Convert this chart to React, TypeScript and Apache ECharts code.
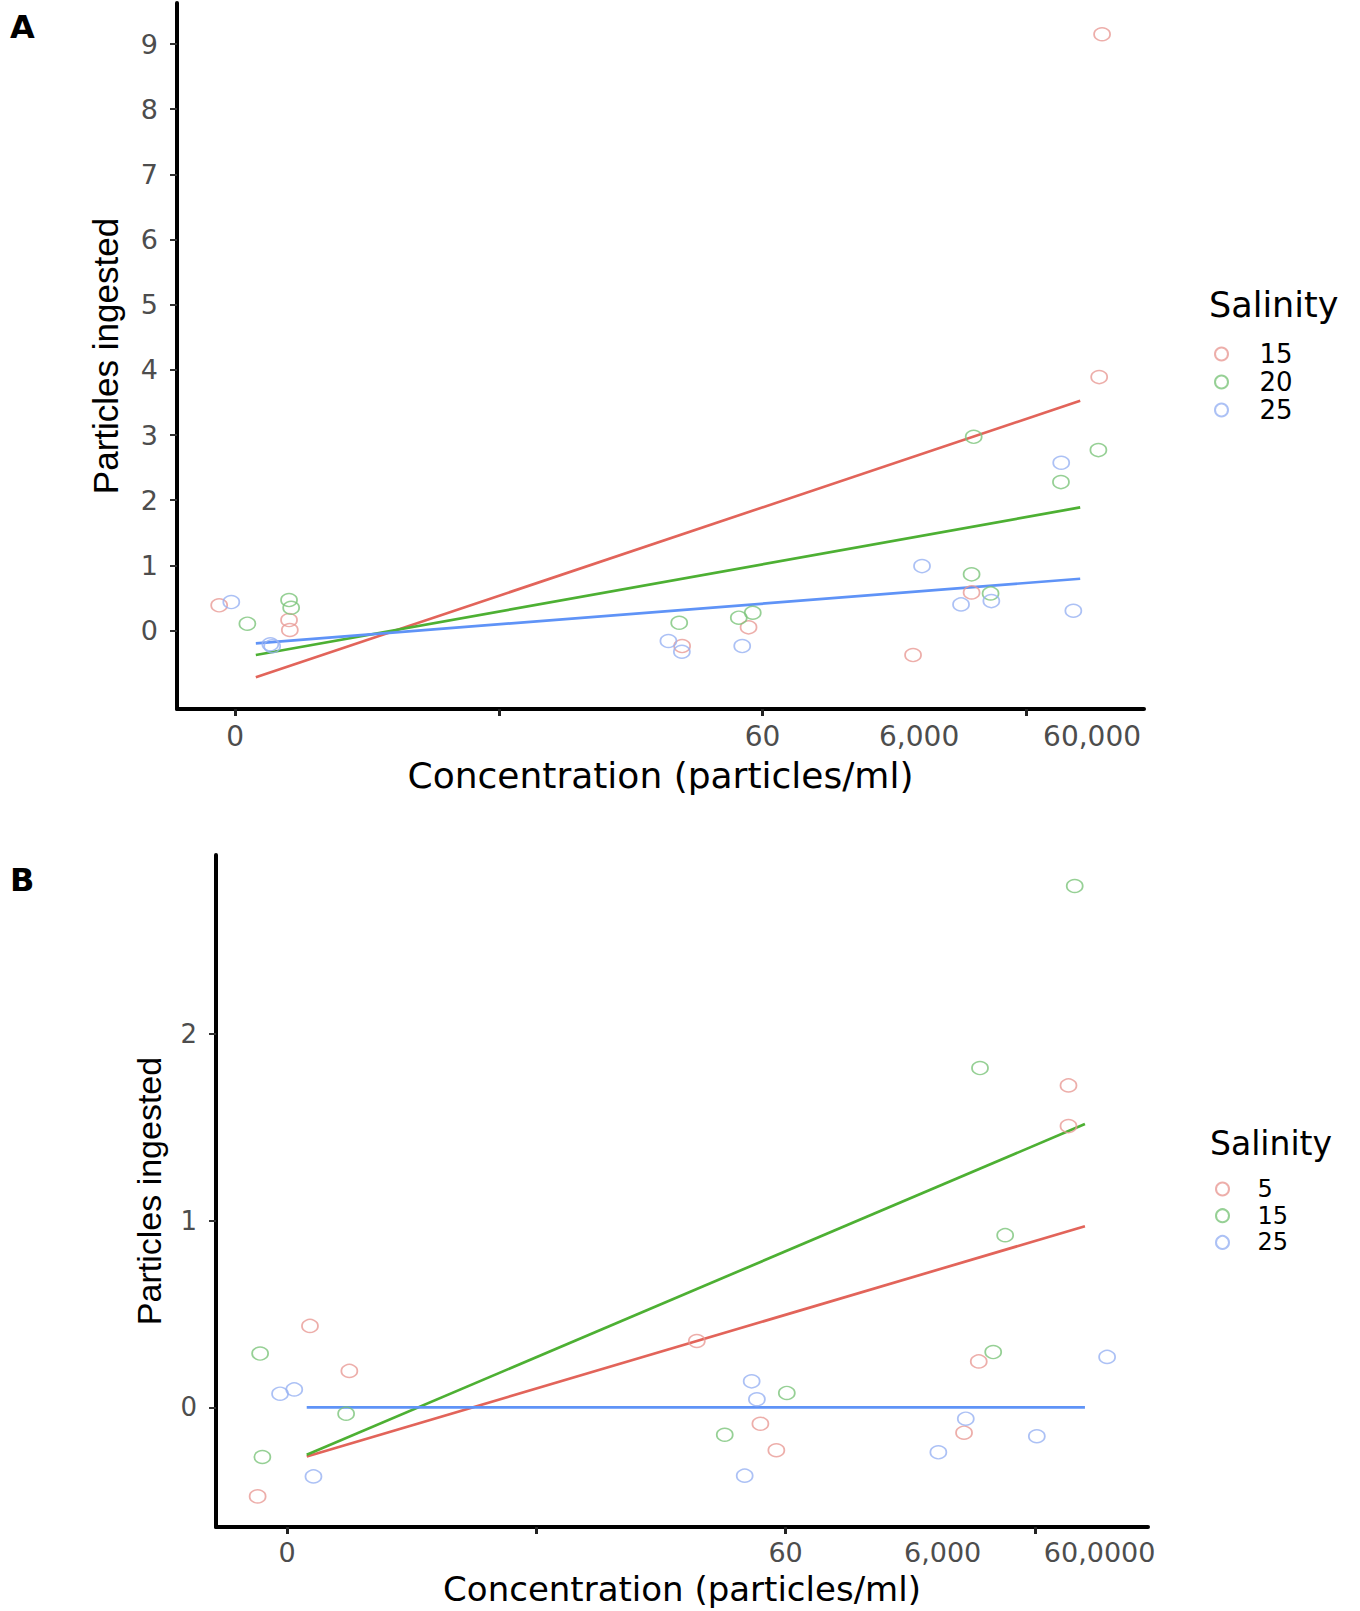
import React, { useEffect, useRef } from "react";
import * as echarts from "echarts";

// ---------- Panel A data ----------
const aSalinity = ["15", "20", "25"];
const aRedX = [-0.061, 0.204, 0.207, 1.695, 1.947, 2.571, 2.793, 3.277, 3.288];
const aRedY = [0.387, 0.161, 0.008, -0.238, 0.049, -0.376, 0.585, 3.889, 9.15];
const aGreenX = [0.046, 0.204, 0.212, 1.684, 1.91, 1.963, 2.793, 2.865, 2.801, 3.132, 3.274];
const aGreenY = [0.105, 0.468, 0.35, 0.12, 0.197, 0.273, 0.862, 0.57, 2.973, 2.278, 2.769];
const aBlueX = [-0.015, 0.133, 0.14, 1.643, 1.694, 1.923, 2.605, 2.753, 2.868, 3.133, 3.179];
const aBlueY = [0.437, -0.21, -0.24, -0.161, -0.325, -0.238, 0.989, 0.401, 0.452, 2.575, 0.304];
const aFitX = [0.078, 3.205];
const aFitRed = [-0.718, 3.525];
const aFitGreen = [-0.376, 1.89];
const aFitBlue = [-0.197, 0.795];
const aXTicks = [0, 1, 2, 3];
const aXLabelPos = [0, 2, 2.594, 3.25];
const aXLabelText = ["0", "60", "6,000", "60,000"];
const aYTicks = [0, 1, 2, 3, 4, 5, 6, 7, 8, 9];

// ---------- Panel B data ----------
const bSalinity = ["5", "15", "25"];
const bRedX = [-0.118, 0.092, 0.25, 1.644, 1.899, 1.963, 2.716, 2.775, 3.135, 3.135];
const bRedY = [-0.477, 0.436, 0.195, 0.355, -0.088, -0.23, -0.136, 0.246, 1.724, 1.506];
const bGreenX = [-0.108, -0.099, 0.237, 1.756, 2.005, 2.78, 2.833, 2.881, 3.16];
const bGreenY = [0.288, -0.266, -0.034, -0.147, 0.077, 1.817, 0.296, 0.922, 2.792];
const bBlueX = [-0.028, 0.029, 0.106, 1.836, 1.864, 1.885, 2.613, 2.723, 3.008, 3.29];
const bBlueY = [0.073, 0.096, -0.37, -0.366, 0.139, 0.043, -0.241, -0.061, -0.155, 0.27];
const bFitX = [0.079, 3.201];
const bFitRed = [-0.263, 0.97];
const bFitGreen = [-0.254, 1.517];
const bFitBlue = [0, 0];
const bXTicks = [0, 1, 2, 3];
const bXLabelPos = [0, 2, 2.63, 3.26];
const bXLabelText = ["0", "60", "6,000", "60,0000"];
const bYTicks = [0, 1, 2];

const pointColors = ["#E89A95", "#7CC47A", "#97B1F2"];
const lineColors = ["#E2645A", "#4DB033", "#5F93F7"];

const zip = (xs: number[], ys: number[]) => xs.map((x, i) => [x, ys[i]]);

function labelFor(pos: number[], text: string[]) {
  return (v: number) => {
    let best = 0;
    let bd = Infinity;
    pos.forEach((p, i) => {
      const d = Math.abs(p - v);
      if (d < bd) {
        bd = d;
        best = i;
      }
    });
    return text[best];
  };
}

interface PanelCfg {
  letter: string;
  letterY: number;
  names: string[];
  pts: number[][][];
  fitX: number[];
  fits: number[][];
  xMin: number;
  xMax: number;
  yMin: number;
  yMax: number;
  xTicks: number[];
  xLabelPos: number[];
  xLabelText: string[];
  yTicks: number[];
  grid: { left: number; right: number; top: number; bottom: number };
  xName: { size: number; gap: number };
  yName: { size: number; gap: number };
  tickFontX: number;
  tickFontY: number;
  xLabelMargin: number;
  legend: { left: number; top: number; size: number; gap: number; pad: number };
  legendTitle: { x: number; y: number; size: number };
}

function buildOption(c: PanelCfg) {
  const series: any[] = [];
  c.names.forEach((n, i) => {
    series.push({
      name: n,
      type: "scatter",
      data: c.pts[i],
      symbol: "circle",
      symbolSize: [16, 13],
      itemStyle: { color: "rgba(0,0,0,0)", borderColor: pointColors[i], borderWidth: 1.6 },
      z: 3,
    });
  });
  c.names.forEach((n, i) => {
    series.push({
      name: "fit " + n,
      type: "line",
      data: zip(c.fitX, c.fits[i]),
      symbol: "none",
      lineStyle: { color: lineColors[i], width: 2.7 },
      z: 2,
    });
  });
  return {
    animation: false,
    backgroundColor: "#ffffff",
    grid: { ...c.grid, containLabel: false },
    xAxis: {
      type: "value",
      min: c.xMin,
      max: c.xMax,
      name: "Concentration (particles/ml)",
      nameLocation: "middle",
      nameGap: c.xName.gap,
      nameTextStyle: { fontFamily: "DejaVu Sans", fontSize: c.xName.size, color: "#000" },
      axisLine: { show: true, onZero: false, lineStyle: { color: "#000", width: 4 } },
      axisTick: { show: true, length: 7, customValues: c.xTicks, lineStyle: { color: "#222", width: 3 } },
      axisLabel: {
        customValues: c.xLabelPos,
        formatter: labelFor(c.xLabelPos, c.xLabelText),
        fontFamily: "DejaVu Sans",
        fontSize: c.tickFontX,
        color: "#4d4d4d",
        margin: c.xLabelMargin,
      },
      splitLine: { show: false },
    },
    yAxis: {
      type: "value",
      min: c.yMin,
      max: c.yMax,
      name: "Particles ingested",
      nameLocation: "middle",
      nameGap: c.yName.gap,
      nameTextStyle: { fontFamily: "Liberation Sans", fontSize: c.yName.size, color: "#000" },
      axisLine: { show: true, onZero: false, lineStyle: { color: "#000", width: 4 } },
      axisTick: { show: true, length: 7, customValues: c.yTicks, lineStyle: { color: "#333", width: 2 } },
      axisLabel: {
        customValues: c.yTicks,
        formatter: (v: number) => String(Math.round(v)),
        fontFamily: "DejaVu Sans",
        fontSize: c.tickFontY,
        color: "#4d4d4d",
        margin: 19,
      },
      splitLine: { show: false },
    },
    legend: {
      data: c.names,
      orient: "vertical",
      left: c.legend.left,
      top: c.legend.top,
      padding: 0,
      itemGap: c.legend.gap,
      itemWidth: 16,
      itemHeight: 13,
      selectedMode: false,
      textStyle: {
        fontFamily: "DejaVu Sans",
        fontSize: c.legend.size,
        color: "#000",
        padding: [0, 0, 0, c.legend.pad],
      },
    },
    graphic: [
      {
        type: "text",
        x: 10,
        y: c.letterY,
        style: {
          text: c.letter,
          fontFamily: "DejaVu Sans",
          fontWeight: "bold",
          fontSize: 32,
          fill: "#000",
          verticalAlign: "middle",
        },
      },
      {
        type: "text",
        x: c.legendTitle.x,
        y: c.legendTitle.y,
        style: {
          text: "Salinity",
          fontFamily: "DejaVu Sans",
          fontSize: c.legendTitle.size,
          fill: "#000",
          verticalAlign: "middle",
        },
      },
    ],
    series,
  };
}

const cfgA: PanelCfg = {
  letter: "A",
  letterY: 27,
  names: aSalinity,
  pts: [zip(aRedX, aRedY), zip(aGreenX, aGreenY), zip(aBlueX, aBlueY)],
  fitX: aFitX,
  fits: [aFitRed, aFitGreen, aFitBlue],
  xMin: -0.221,
  xMax: 3.447,
  yMin: -1.204,
  yMax: 9.63,
  xTicks: aXTicks,
  xLabelPos: aXLabelPos,
  xLabelText: aXLabelText,
  yTicks: aYTicks,
  grid: { left: 177, right: 216, top: 3, bottom: 91 },
  xName: { size: 36, gap: 48 },
  yName: { size: 35, gap: 54 },
  tickFontX: 28,
  tickFontY: 27,
  xLabelMargin: 13,
  legend: { left: 1214, top: 341, size: 26, gap: 2, pad: 25 },
  legendTitle: { x: 1209, y: 305, size: 35 },
};

const cfgB: PanelCfg = {
  letter: "B",
  letterY: 80,
  names: bSalinity,
  pts: [zip(bRedX, bRedY), zip(bGreenX, bGreenY), zip(bBlueX, bBlueY)],
  fitX: bFitX,
  fits: [bFitRed, bFitGreen, bFitBlue],
  xMin: -0.285,
  xMax: 3.454,
  yMin: -0.641,
  yMax: 2.958,
  xTicks: bXTicks,
  xLabelPos: bXLabelPos,
  xLabelText: bXLabelText,
  yTicks: bYTicks,
  grid: { left: 216, right: 212, top: 55, bottom: 84 },
  xName: { size: 34, gap: 45 },
  yName: { size: 34, gap: 50 },
  tickFontX: 27,
  tickFontY: 26,
  xLabelMargin: 12,
  legend: { left: 1215, top: 377, size: 24, gap: 2.7, pad: 22 },
  legendTitle: { x: 1210, y: 343, size: 33 },
};

function Panel({ cfg, top, height }: { cfg: PanelCfg; top: number; height: number }) {
  const ref = useRef<HTMLDivElement>(null);
  useEffect(() => {
    if (!ref.current) return;
    const chart = echarts.init(ref.current, undefined, { renderer: "svg" });
    chart.setOption(buildOption(cfg) as any);
    return () => chart.dispose();
  }, [cfg]);
  return (
    <div
      ref={ref}
      style={{ position: "absolute", left: 0, top, width: 1360, height }}
    />
  );
}

export default function App() {
  return (
    <div style={{ position: "absolute", left: 0, top: 0, width: 1360, height: 1611, background: "#fff" }}>
      <Panel cfg={cfgA} top={0} height={800} />
      <Panel cfg={cfgB} top={800} height={811} />
    </div>
  );
}
